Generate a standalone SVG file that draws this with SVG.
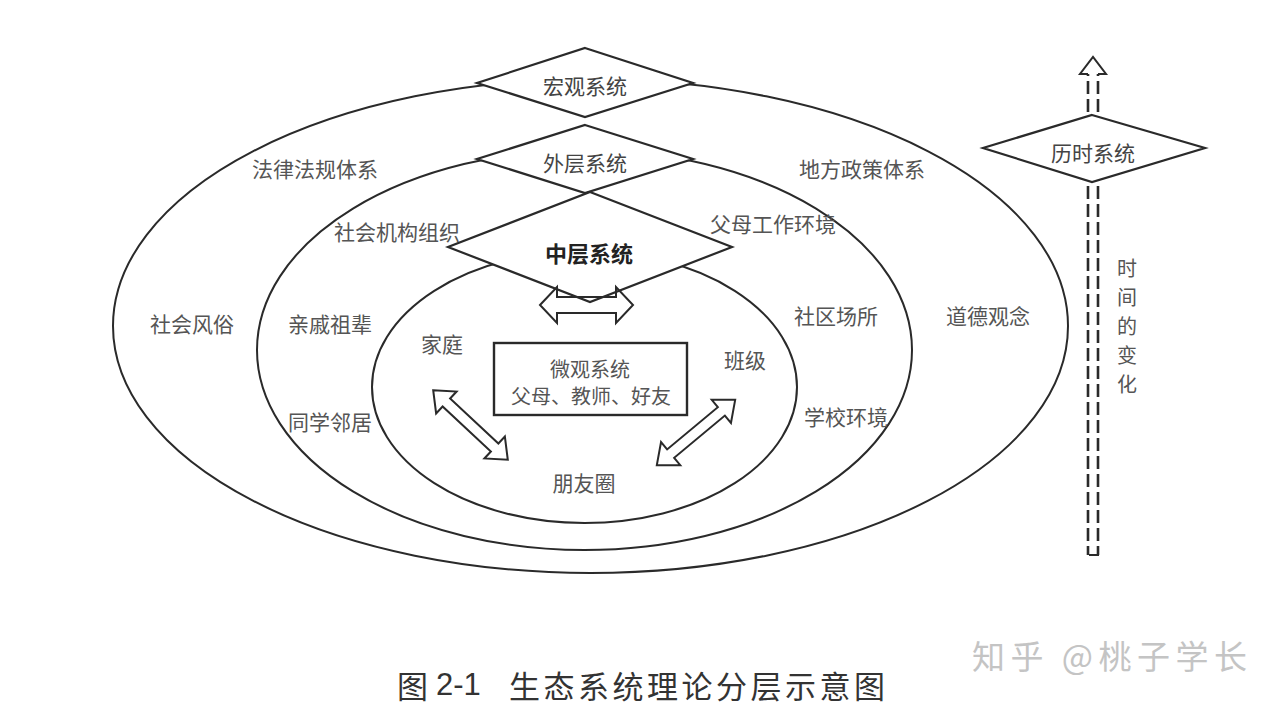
<svg xmlns="http://www.w3.org/2000/svg" width="1280" height="709" viewBox="0 0 1280 709">
<style>
  .ring { fill: none; stroke: #2a2a2a; stroke-width: 2; }
  .dia { fill: #ffffff; stroke: #2a2a2a; stroke-width: 2.2; stroke-linejoin: miter; }
  .lbl { font-family: "Noto Sans CJK SC", "Noto Sans", sans-serif; font-size: 21px; fill: #555; text-anchor: middle; dominant-baseline: central; }
  .dlbl { font-family: "Noto Sans CJK SC", "Noto Sans", sans-serif; font-size: 21px; fill: #444; text-anchor: middle; dominant-baseline: central; }
  .blbl { font-family: "Noto Sans CJK SC", "Noto Sans", sans-serif; font-size: 22px; font-weight: bold; fill: #222; text-anchor: middle; dominant-baseline: central; }
  .arr { fill: none; stroke: #2a2a2a; stroke-width: 2; stroke-linejoin: miter; }
  .dash { fill: none; stroke: #2a2a2a; stroke-width: 2.6; stroke-dasharray: 13 5; }
  .cap { font-family: "Noto Sans CJK SC", "Noto Sans", sans-serif; font-size: 31px; fill: #333; dominant-baseline: central; }
  .wm { font-family: "Noto Sans CJK SC", "Noto Sans", sans-serif; font-size: 33px; fill: #c4c4c4; dominant-baseline: central; }
</style>
<rect width="1280" height="709" fill="#ffffff"/>

<g id="rings">
  <ellipse id="outer" class="ring" cx="590.5" cy="326" rx="477.5" ry="247"/>
  <ellipse id="middle" class="ring" cx="584.5" cy="350" rx="327.5" ry="200"/>
  <ellipse id="inner" class="ring" cx="584.5" cy="387" rx="212.5" ry="136"/>
</g>

<g id="macro">
  <polygon class="dia" points="585,48 693,83 585,117 477,83"/>
  <text class="dlbl" x="585" y="85">宏观系统</text>
</g>
<g id="exo">
  <polygon class="dia" points="585,125 693,159 585,193 477,159"/>
  <text class="dlbl" x="585" y="162">外层系统</text>
</g>
<g id="meso">
  <polygon class="dia" points="590,192 732,247 590,302 448,247"/>
  <text class="blbl" x="589" y="252">中层系统</text>
</g>
<g id="micro">
  <rect x="494" y="343" width="193" height="72" fill="none" stroke="#2a2a2a" stroke-width="2.4"/>
  <text class="lbl" x="590" y="368" style="font-size:20px">微观系统</text>
  <text class="lbl" x="591" y="395" style="font-size:20px">父母、教师、好友</text>
</g>
<g id="chrono">
  <polygon class="dia" points="1092,115 1205,148 1092,182 983,148"/>
  <text class="dlbl" x="1093" y="152">历时系统</text>
</g>

<g id="labels">
  <text class="lbl" x="315" y="168">法律法规体系</text>
  <text class="lbl" x="862" y="168">地方政策体系</text>
  <text class="lbl" x="397" y="231">社会机构组织</text>
  <text class="lbl" x="773" y="223">父母工作环境</text>
  <text class="lbl" x="192" y="323">社会风俗</text>
  <text class="lbl" x="330" y="323">亲戚祖辈</text>
  <text class="lbl" x="442" y="343">家庭</text>
  <text class="lbl" x="330" y="421">同学邻居</text>
  <text class="lbl" x="836" y="315">社区场所</text>
  <text class="lbl" x="988" y="315">道德观念</text>
  <text class="lbl" x="745" y="359">班级</text>
  <text class="lbl" x="846" y="416">学校环境</text>
  <text class="lbl" x="584" y="482">朋友圈</text>
  <g class="lbl" style="font-size:20px">
    <text class="lbl" x="1127" y="267" style="font-size:20px">时</text>
    <text class="lbl" x="1127" y="296" style="font-size:20px">间</text>
    <text class="lbl" x="1127" y="325" style="font-size:20px">的</text>
    <text class="lbl" x="1127" y="354" style="font-size:20px">变</text>
    <text class="lbl" x="1127" y="383" style="font-size:20px">化</text>
  </g>
</g>

<g id="connectors">
  <path class="arr" d="M540,305 L557,287 L557,297 L616,297 L616,287 L633,305 L616,323 L616,313 L557,313 L557,323 Z"/>
  <path class="arr" transform="translate(470.5,425) rotate(43)" d="M-51,0 L-33,-15 L-33,-5.5 L33,-5.5 L33,-15 L51,0 L33,15 L33,5.5 L-33,5.5 L-33,15 Z"/>
  <path class="arr" transform="translate(696,432.5) rotate(-39.8)" d="M-51,0 L-33,-15 L-33,-5.5 L33,-5.5 L33,-15 L51,0 L33,15 L33,5.5 L-33,5.5 L-33,15 Z"/>
  <g id="time-arrow">
    <line class="dash" x1="1088" y1="112" x2="1088" y2="74"/>
    <line class="dash" x1="1098" y1="112" x2="1098" y2="74"/>
    <path class="arr" d="M1088,74 L1080,74 L1093,57 L1106,74 L1098,74" stroke-width="2.4"/>
    <line class="dash" x1="1088" y1="186" x2="1088" y2="555"/>
    <line class="dash" x1="1098" y1="186" x2="1098" y2="555"/>
    <path class="arr" d="M1089,555 L1098,555 L1098,548" stroke-width="2.4"/>
  </g>
</g>

<g id="caption">
  <text class="cap" x="397" y="684">图</text>
  <text class="cap" x="436" y="684" style="font-family:'Liberation Sans','Noto Sans',sans-serif">2-1</text>
  <text class="cap" x="509" y="684" textLength="376" lengthAdjust="spacing">生态系统理论分层示意图</text>
</g>
<g id="watermark">
  <text class="wm" x="972" y="655" textLength="275" lengthAdjust="spacing">知乎 @桃子学长</text>
</g>
</svg>
